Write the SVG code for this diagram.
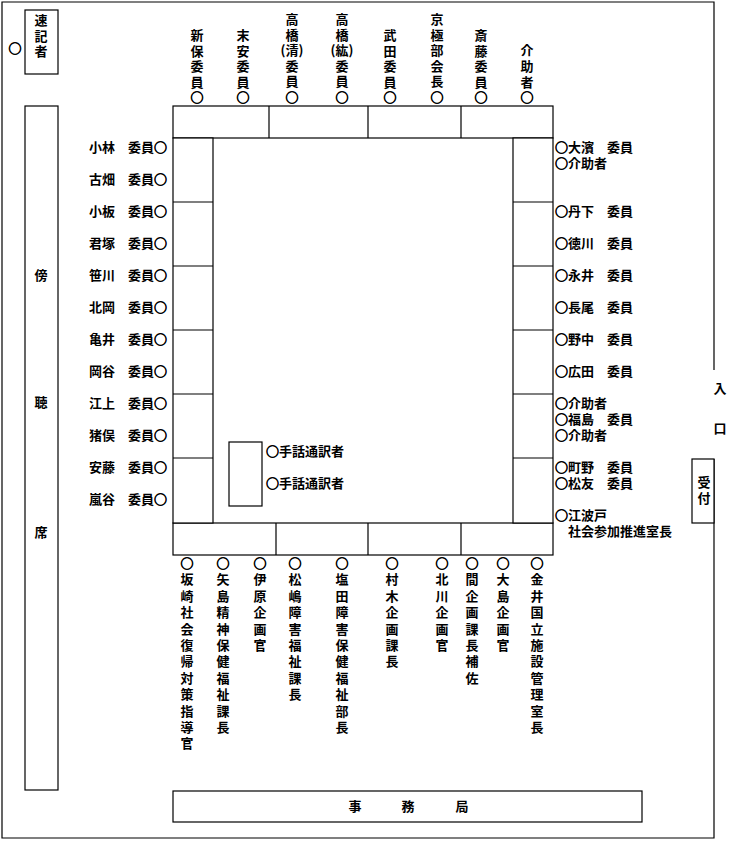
<svg xmlns="http://www.w3.org/2000/svg" width="731" height="841" viewBox="0 0 731 841">
<style>
text{font-family:"Noto Sans CJK JP","Noto Sans CJK SC",sans-serif;font-size:13px;font-weight:bold;fill:#000}
.m{text-anchor:middle}
.e{text-anchor:end}
.v{writing-mode:vertical-rl;letter-spacing:2.6px}
.vb{writing-mode:vertical-rl;letter-spacing:3.4px}
.c{stroke:#000;stroke-width:0.7}
.b{fill:#fff;stroke:#000;stroke-width:1.2}
.l{stroke:#000;stroke-width:1.2;fill:none}
</style>
<rect width="731" height="841" fill="#fff"/>
<g id="room">
<polyline class="l" points="714,370 714,2 2,2 2,838 714,838 714,459"/>
<text class="m" x="720" y="393">入</text>
<text class="m" x="720" y="433">口</text>
</g>
<g id="stenographer">
<rect class="b" x="25" y="10" width="33" height="64"/>
<text class="v" x="41" y="13.5">速記者</text>
<text class="m" x="15" y="53"><tspan class="c">○</tspan></text>
</g>
<g id="gallery">
<rect class="b" x="25" y="106" width="33" height="684"/>
<text class="m" x="41" y="280">傍</text>
<text class="m" x="41" y="407">聴</text>
<text class="m" x="41" y="537">席</text>
</g>
<g id="reception">
<rect class="b" x="692" y="459" width="22" height="64"/>
<text class="v" x="704" y="476">受付</text>
</g>
<g id="secretariat">
<rect class="b" x="173" y="791" width="469" height="31"/>
<text class="m" x="355" y="811">事</text>
<text class="m" x="408" y="811">務</text>
<text class="m" x="462" y="811">局</text>
</g>
<g id="table">
<rect class="b" x="173" y="106" width="380" height="32"/>
<rect class="b" x="173" y="523" width="380" height="32"/>
<rect class="b" x="173" y="138" width="40" height="385"/>
<rect class="b" x="513" y="138" width="40" height="385"/>
<path class="l" d="M269,106V138M368,106V138M461,106V138M276,523V555M368,523V555M461,523V555M173,202H213M173,266H213M173,330H213M173,394H213M173,458H213M513,202H553M513,266H553M513,330H553M513,394H553M513,458H553"/>
</g>
<g id="interpreters">
<rect class="b" x="229" y="442" width="33" height="64"/>
<text x="266" y="456"><tspan class="c">○</tspan>手話通訳者</text>
<text x="266" y="488"><tspan class="c">○</tspan>手話通訳者</text>
</g>
<g id="top-seats">
<text class="v" x="197" y="28.5">新保委員<tspan class="c">○</tspan></text>
<text class="v" x="243" y="28.5">末安委員<tspan class="c">○</tspan></text>
<text class="m" x="292" y="24">高<tspan x="292" dy="15.6">橋</tspan><tspan x="292" dy="15.6">(清)</tspan><tspan x="292" dy="15.6">委</tspan><tspan x="292" dy="15.6">員</tspan><tspan x="292" dy="15.6" class="c">○</tspan></text>
<text class="m" x="342" y="24">高<tspan x="342" dy="15.6">橋</tspan><tspan x="342" dy="15.6">(紘)</tspan><tspan x="342" dy="15.6">委</tspan><tspan x="342" dy="15.6">員</tspan><tspan x="342" dy="15.6" class="c">○</tspan></text>
<text class="v" x="390" y="28.5">武田委員<tspan class="c">○</tspan></text>
<text class="v" x="437" y="12.5">京極部会長<tspan class="c">○</tspan></text>
<text class="v" x="481" y="28.5">斎藤委員<tspan class="c">○</tspan></text>
<text class="v" x="527" y="44">介助者<tspan class="c">○</tspan></text>
</g>
<g id="left-seats">
<text class="e" x="167" y="152">小林　委員<tspan class="c">○</tspan></text>
<text class="e" x="167" y="184">古畑　委員<tspan class="c">○</tspan></text>
<text class="e" x="167" y="216">小板　委員<tspan class="c">○</tspan></text>
<text class="e" x="167" y="248">君塚　委員<tspan class="c">○</tspan></text>
<text class="e" x="167" y="280">笹川　委員<tspan class="c">○</tspan></text>
<text class="e" x="167" y="312">北岡　委員<tspan class="c">○</tspan></text>
<text class="e" x="167" y="344">亀井　委員<tspan class="c">○</tspan></text>
<text class="e" x="167" y="376">岡谷　委員<tspan class="c">○</tspan></text>
<text class="e" x="167" y="408">江上　委員<tspan class="c">○</tspan></text>
<text class="e" x="167" y="440">猪俣　委員<tspan class="c">○</tspan></text>
<text class="e" x="167" y="472">安藤　委員<tspan class="c">○</tspan></text>
<text class="e" x="167" y="504">嵐谷　委員<tspan class="c">○</tspan></text>
</g>
<g id="right-seats">
<text x="555" y="152"><tspan class="c">○</tspan>大濱　委員<tspan x="555" dy="16" class="c">○</tspan>介助者</text>
<text x="555" y="216"><tspan class="c">○</tspan>丹下　委員</text>
<text x="555" y="248"><tspan class="c">○</tspan>徳川　委員</text>
<text x="555" y="280"><tspan class="c">○</tspan>永井　委員</text>
<text x="555" y="312"><tspan class="c">○</tspan>長尾　委員</text>
<text x="555" y="344"><tspan class="c">○</tspan>野中　委員</text>
<text x="555" y="376"><tspan class="c">○</tspan>広田　委員</text>
<text x="555" y="408"><tspan class="c">○</tspan>介助者<tspan x="555" dy="16" class="c">○</tspan>福島　委員<tspan x="555" dy="16" class="c">○</tspan>介助者</text>
<text x="555" y="472"><tspan class="c">○</tspan>町野　委員<tspan x="555" dy="16" class="c">○</tspan>松友　委員</text>
<text x="555" y="520"><tspan class="c">○</tspan>江波戸<tspan x="555" dy="16">　社会参加推進室長</tspan></text>
</g>
<g id="bottom-seats">
<text class="vb" x="187" y="556.5"><tspan class="c">○</tspan>坂崎社会復帰対策指導官</text>
<text class="vb" x="223" y="556.5"><tspan class="c">○</tspan>矢島精神保健福祉課長</text>
<text class="vb" x="260" y="556.5"><tspan class="c">○</tspan>伊原企画官</text>
<text class="vb" x="295" y="556.5"><tspan class="c">○</tspan>松嶋障害福祉課長</text>
<text class="vb" x="342" y="556.5"><tspan class="c">○</tspan>塩田障害保健福祉部長</text>
<text class="vb" x="392" y="556.5"><tspan class="c">○</tspan>村木企画課長</text>
<text class="vb" x="442" y="556.5"><tspan class="c">○</tspan>北川企画官</text>
<text class="vb" x="472" y="556.5"><tspan class="c">○</tspan>間企画課長補佐</text>
<text class="vb" x="503" y="556.5"><tspan class="c">○</tspan>大島企画官</text>
<text class="vb" x="537" y="556.5"><tspan class="c">○</tspan>金井国立施設管理室長</text>
</g>
</svg>
